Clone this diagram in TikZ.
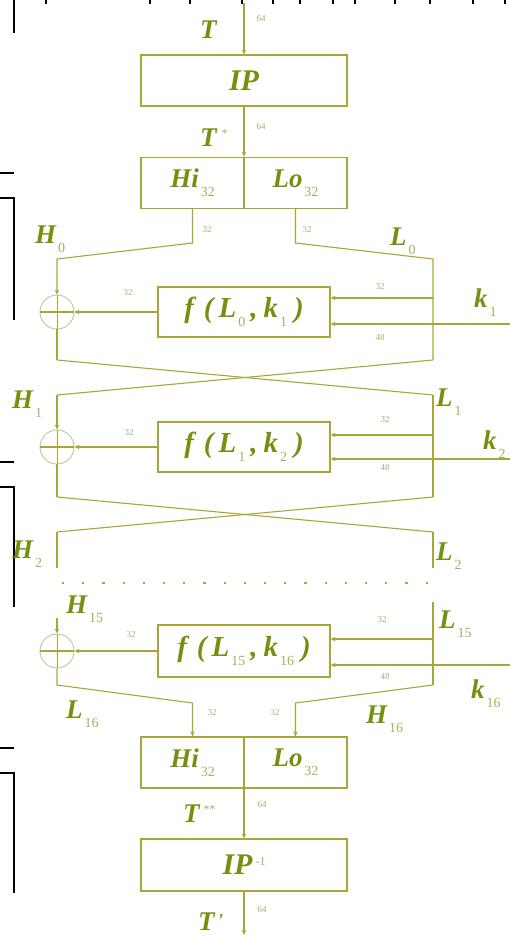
\documentclass[tikz,border=0pt]{standalone}
\usepackage{fontspec}
\setmainfont{Liberation Serif}
\usetikzlibrary{arrows.meta}
\definecolor{linec}{RGB}{170,165,55}
\definecolor{txtc}{RGB}{115,145,15}
\definecolor{subc}{RGB}{165,175,95}
\definecolor{numc}{RGB}{170,170,105}
\definecolor{xorcol}{RGB}{195,195,150}
% subscript set in a light upright face, as in the labels H_0, Lo_32, ...
\newcommand\subx[1]{\hspace{2pt}\raisebox{-9pt}{\fontsize{14}{14}\selectfont\mdseries\upshape\color{subc}#1}}
\newcommand\supx[1]{\raisebox{9pt}{\fontsize{12}{12}\selectfont\mdseries\upshape\color{subc}#1}}
% round function label f(L_i, k_j), spaced out like an equation
\newcommand\fun[2]{f\hspace{10pt}(\hspace{5pt}L\subx{#1}\hspace{5pt},\hspace{6pt}k\subx{#2}\hspace{7pt})}
\begin{document}
\begin{tikzpicture}[x=1pt,y=-1pt,
  wire/.style={draw=linec,line width=1.1pt},
  arr/.style={wire,-{Stealth[length=5pt,width=4.5pt]}},
  blk/.style={draw=linec,line width=1.3pt,minimum height=51pt,inner sep=0pt,
    font=\fontsize{27}{27}\selectfont\bfseries\itshape,text=txtc},
  fblk/.style={blk,minimum width=172pt,minimum height=50pt,
    font=\fontsize{29}{29}\selectfont\bfseries\itshape},
  lbl/.style={inner sep=0pt,anchor=base west,
    font=\fontsize{27}{27}\selectfont\bfseries\itshape,text=txtc},
  num/.style={inner sep=0pt,font=\fontsize{9}{9}\selectfont,text=numc},
  xorc/.style={circle,draw=xorcol,line width=0.9pt,minimum size=34pt,inner sep=0pt},
  brk/.style={draw=black,line width=1.4pt}]
\useasboundingbox (0,0) rectangle (510,937);

% ---- side brackets and cut-off marks ----
\draw[brk] (14,0) -- (14,33);
\draw[brk] (0,173) -- (14,173);
\draw[brk] (0,198) -- (14,198) -- (14,320);
\draw[brk] (0,462) -- (14,462);
\draw[brk] (0,487) -- (14,487) -- (14,607);
\draw[brk] (0,748) -- (14,748);
\draw[brk] (0,773) -- (14,773) -- (14,893);
\foreach \tx in {46,150,190,242,273,300,333,355,395,430,473,505}
  \draw[black,line width=1.2pt] (\tx,0) -- (\tx,4);

% ---- blocks ----
\node[blk,minimum width=206pt,font=\fontsize{30}{30}\selectfont\bfseries\itshape] (ip) at (244,80.5) {IP};
\node[blk,minimum width=103pt] (hi1) at (192.5,183) {Hi\subx{32}};
\node[blk,minimum width=103pt] (lo1) at (295.5,183) {Lo\subx{32}};
\node[fblk] (f1) at (244,312) {\fun{0}{1}};
\node[fblk] (f2) at (244,447) {\fun{1}{2}};
\node[fblk,minimum height=52pt] (f16) at (244,651) {\fun{15}{16}};
\node[blk,minimum width=103pt] (hi2) at (192.5,762.5) {Hi\subx{32}};
\node[blk,minimum width=103pt] (lo2) at (295.5,762.5) {Lo\subx{32}};
\node[blk,minimum width=206pt,minimum height=52pt,font=\fontsize{30}{30}\selectfont\bfseries\itshape] (ipinv) at (244,865) {IP\hspace{3pt}\supx{-1}};

% ---- XOR gates ----
\node[xorc] (x1) at (57,312) {};
\node[xorc] (x2) at (57,447) {};
\node[xorc] (x16) at (57,651) {};
\foreach \g in {x1,x2,x16}{
  \draw[wire] (\g.west) -- (\g.east);
  \draw[wire,line width=0.8pt] (\g.north) -- (\g.south);
}

% ---- input and initial permutation ----
\coordinate (tin) at (244,3);
\draw[arr] (tin) -- (ip.north);
\draw[arr] (ip.south) -- (ip.south |- hi1.north);

% ---- round 1 ----
\coordinate (h0a) at (192.5,243);
\coordinate (h0b) at (57,259);
\draw[arr] (hi1.south) -- (h0a) -- (h0b) -- (x1.north);
\coordinate (l0a) at (295.5,243);
\coordinate (l0b) at (433,259);
\coordinate (l0c) at (433,360);
\draw[wire] (lo1.south) -- (l0a) -- (l0b) -- (l0c);
\coordinate (r1) at (433,298);
\draw[arr] (r1) -- (r1 -| f1.east);
\coordinate (k1in) at (510,324);
\draw[arr] (k1in) -- (k1in -| f1.east);
\draw[arr] (f1.west) -- (x1.east);
\coordinate (h0c) at (57,360);
\draw[wire] (x1.south) -- (h0c);
\coordinate (h1) at (57,395);
\coordinate (l1) at (433,395);
\draw[wire] (h0c) -- (l1);
\draw[wire] (l0c) -- (h1);

% ---- round 2 ----
\draw[arr] (h1) -- (x2.north);
\coordinate (l1c) at (433,497);
\draw[wire] (l1) -- (l1c);
\coordinate (r2) at (433,435);
\draw[arr] (r2) -- (r2 -| f2.east);
\coordinate (k2in) at (510,459);
\draw[arr] (k2in) -- (k2in -| f2.east);
\draw[arr] (f2.west) -- (x2.east);
\coordinate (h1c) at (57,497);
\draw[wire] (x2.south) -- (h1c);
\coordinate (h2) at (57,532);
\coordinate (l2) at (433,532);
\draw[wire] (h1c) -- (l2);
\draw[wire] (l1c) -- (h2);
\coordinate (h2e) at (57,568);
\coordinate (l2e) at (433,568);
\draw[wire] (h2) -- (h2e);
\draw[wire] (l2) -- (l2e);

% ---- elided rounds ----
\coordinate (dl) at (62,583);
\coordinate (dr) at (432,583);
\draw[linec,line width=2.2pt,dash pattern=on 2.2pt off 18pt] (dl) -- (dr);

% ---- round 16 ----
\coordinate (h15) at (57,618);
\draw[arr] (h15) -- (x16.north);
\coordinate (l15a) at (433,602);
\coordinate (l15b) at (433,685);
\draw[wire] (l15a) -- (l15b);
\coordinate (r16) at (433,639);
\draw[arr] (r16) -- (r16 -| f16.east);
\coordinate (k16in) at (510,665);
\draw[arr] (k16in) -- (k16in -| f16.east);
\draw[arr] (f16.west) -- (x16.east);
\coordinate (l16a) at (57,685);
\coordinate (l16b) at (192.5,703);
\draw[arr] (x16.south) -- (l16a) -- (l16b) -- (hi2.north);
\coordinate (h16b) at (295.5,703);
\draw[arr] (l15b) -- (h16b) -- (lo2.north);

% ---- final permutation and output ----
\draw[arr] (ipinv.north |- hi2.south) -- (ipinv.north);
\coordinate (tout) at (244,935);
\draw[arr] (ipinv.south) -- (tout);

% ---- labels ----
\node[lbl] (lT) at (200,38) {T};
\node[lbl] (lTa) at (200,146) {T\hspace{5pt}\supx{*}};
\node[lbl] (lH0) at (35,243) {H\subx{0}};
\node[lbl] (lL0) at (390,245) {L\subx{0}};
\node[lbl] (lk1) at (474,307) {k\subx{1}};
\node[lbl] (lH1) at (12,408) {H\subx{1}};
\node[lbl] (lL1) at (436,406) {L\subx{1}};
\node[lbl] (lk2) at (483,449) {k\subx{2}};
\node[lbl] (lH2) at (12,558) {H\subx{2}};
\node[lbl] (lL2) at (436,560) {L\subx{2}};
\node[lbl] (lH15) at (66,613) {H\subx{15}};
\node[lbl] (lL15) at (439,628) {L\subx{15}};
\node[lbl] (lk16) at (471,698) {k\subx{16}};
\node[lbl] (lL16) at (66,718) {L\subx{16}};
\node[lbl] (lH16) at (366,723) {H\subx{16}};
\node[lbl] (lTb) at (183,822) {T\hspace{4pt}\supx{**}};
\node[lbl] (lTc) at (198,930) {T\hspace{3pt}\raisebox{3pt}{\fontsize{20}{20}\selectfont\textquotesingle}};

% ---- bit widths ----
\node[num] (n1) at (261,19) {64};
\node[num] (n2) at (261,127) {64};
\node[num] (n3) at (207,230) {32};
\node[num] (n4) at (307,230) {32};
\node[num] (n5) at (380,287) {32};
\node[num] (n6) at (380,338) {48};
\node[num] (n7) at (128,293) {32};
\node[num] (n8) at (385,420) {32};
\node[num] (n9) at (385,468) {48};
\node[num] (n10) at (129,433) {32};
\node[num] (n11) at (382,620) {32};
\node[num] (n12) at (385,677) {48};
\node[num] (n13) at (131,635) {32};
\node[num] (n14) at (212,713) {32};
\node[num] (n15) at (275,713) {32};
\node[num] (n16) at (262,805) {64};
\node[num] (n17) at (262,910) {64};
\end{tikzpicture}
\end{document}
